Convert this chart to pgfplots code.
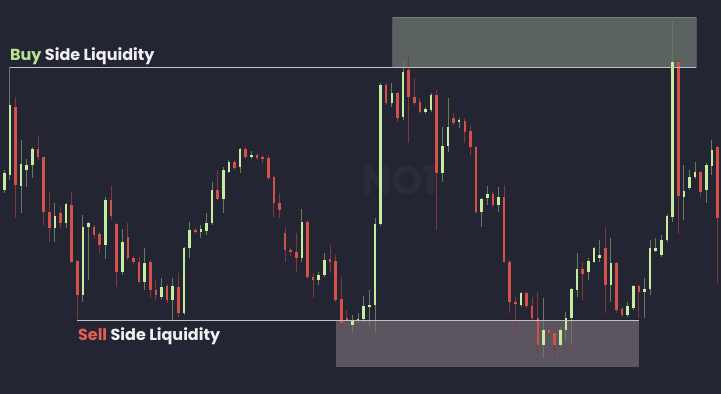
\documentclass[border=0pt]{standalone}
\usepackage{pgfplots}
\pgfplotsset{compat=1.18}
\usepackage{pgfplotstable}
\usepackage{fontspec}
\setmainfont{Poppins}
\definecolor{bg}{RGB}{36,37,51}
\definecolor{up}{RGB}{198,236,160}
\definecolor{upw}{RGB}{105,122,98}
\definecolor{dn}{RGB}{212,80,74}
\definecolor{dnw}{RGB}{128,56,58}
\definecolor{buyz}{RGB}{90,99,96}
\definecolor{sellz}{RGB}{92,84,94}
\definecolor{lvl}{RGB}{190,194,196}
\definecolor{buyc}{RGB}{183,228,140}
\definecolor{sellc}{RGB}{226,96,84}
\definecolor{txt}{RGB}{240,240,242}

% columns: candle index, open, high, low, close (screen depth units: smaller = higher price)
\pgfplotstableread{
i o h l c
0 190 170 193 173
1 175 67 180 105
2 107 97 218 185
3 186 140 213 164
4 170 159 187 165
5 165 147 178 149
6 149 136 160 157
7 157 157 225 212
8 212 192 242 228
9 228 203 242 216
10 213 207 228 223
11 223 203 228 204
12 205 192 263 262
13 261 260 319 295
14 295 215 302 227
15 227 222 280 223
16 227 225 238 235
17 234 232 253 245
18 245 197 259 200
19 200 186 220 216
20 224 223 287 272
21 272 229 275 242
22 237 223 260 258
23 258 256 264 262
24 262 257 283 282
25 282 248 290 263
26 262 260 298 290
27 290 280 300 295
28 297 278 300 287
29 286 284 303 300
30 300 278 320 286
31 287 273 317 313
32 313 247 315 248
33 248 222 258 230
34 230 228 234 232
35 232 225 238 229
36 231 213 235 223
37 223 182 225 190
38 190 170 200 199
39 199 167 213 170
40 172 160 173 162
41 162 160 170 168
42 167 148 173 149
43 149 147 159 157
44 157 151 159 155
45 155 153 160 158
46 157 155 163 159
47 158 155 180 178
48 177 176 217 203
49 203 193 218 210
50 233 227 262 250
51 250 248 256 252
52 252 233 272 258
53 258 209 262 222
54 222 220 279 277
55 277 273 298 280
56 280 272 285 275
57 275 253 277 260
58 259 245 273 262
59 261 255 302 300
60 299 277 327 323
61 318 310 323 320
62 325 315 333 320
63 321 313 323 319
64 319 296 323 306
65 307 290 327 305
66 305 218 333 224
67 224 83 226 85
68 85 83 105 103
69 103 83 107 93
70 93 92 122 118
71 117 60 120 72
72 70 57 143 97
73 97 78 105 103
74 102 98 113 112
75 112 107 114 109
76 110 93 112 95
77 95 90 230 173
78 173 127 182 146
79 146 98 152 127
80 118 113 125 123
81 122 118 128 120
82 121 118 143 132
83 131 125 155 147
84 147 146 214 212
85 212 198 227 199
86 198 186 205 194
87 194 192 207 205
88 205 187 212 197
89 197 185 263 262
90 262 260 313 302
91 302 297 330 304
92 305 292 307 293
93 293 292 308 306
94 306 297 320 318
95 318 292 353 345
96 345 298 358 330
97 330 328 336 333
98 333 332 357 345
99 345 327 347 330
100 330 312 342 318
101 318 288 343 289
102 290 253 297 269
103 269 262 300 274
104 272 258 280 261
105 262 247 263 248
106 258 240 262 255
107 248 227 313 285
108 285 238 302 263
109 263 262 313 310
110 309 307 317 315
111 315 302 317 306
112 308 285 310 286
113 286 285 318 292
114 292 278 318 289
115 289 240 295 248
116 251 238 252 248
117 255 235 257 240
118 240 214 242 216
119 217 22 222 62
120 62 60 234 196
121 197 165 220 191
122 188 170 190 177
123 177 162 179 172
124 172 171 197 192
125 190 163 203 165
126 166 140 175 150
127 147 146 283 218
}\candles

\begin{document}
\begin{tikzpicture}
\begin{axis}[
  scale only axis, width=721pt, height=394pt,
  xmin=-0.766, xmax=127.62, ymin=0, ymax=394, y dir=reverse,
  axis line style={draw=none}, ticks=none,
  axis background/.style={fill=bg}, clip=false]

% liquidity zones
\addplot[fill=buyz, draw=lvl, draw opacity=0.3, line width=0.5pt] coordinates {(69.16,17) (123.17,17) (123.17,67) (69.16,67)} -- cycle;
\addplot[fill=sellz, draw=none] coordinates {(59.06,320) (113.02,320) (113.02,367) (59.06,367)} -- cycle;

% watermark
\node[text=bg!97!white, font=\fontsize{40}{44}\selectfont\bfseries] at (axis cs:70.4,180) {NO1};

% wicks
\addplot[draw=none, mark=none, error bars/.cd, y dir=plus, y explicit, error mark=none,
  error bar style={draw=upw, line width=0.9pt}]
  table[x=i, y expr={\thisrow{c}<\thisrow{o} ? \thisrow{h} : nan}, y error expr={\thisrow{l}-\thisrow{h}}] {\candles};
\addplot[draw=none, mark=none, error bars/.cd, y dir=plus, y explicit, error mark=none,
  error bar style={draw=dnw, line width=0.9pt}]
  table[x=i, y expr={\thisrow{c}<\thisrow{o} ? nan : \thisrow{h}}, y error expr={\thisrow{l}-\thisrow{h}}] {\candles};
% bodies
\addplot[draw=none, mark=none, error bars/.cd, y dir=plus, y explicit, error mark=none,
  error bar style={draw=up, line width=2.6pt}]
  table[x=i, y expr={\thisrow{c}<\thisrow{o} ? \thisrow{c} : nan}, y error expr={max(\thisrow{o}-\thisrow{c},1.6)}] {\candles};
\addplot[draw=none, mark=none, error bars/.cd, y dir=plus, y explicit, error mark=none,
  error bar style={draw=dn, line width=2.6pt}]
  table[x=i, y expr={\thisrow{c}<\thisrow{o} ? nan : \thisrow{o}}, y error expr={max(\thisrow{c}-\thisrow{o},1.6)}] {\candles};

% liquidity levels
\addplot[lvl, line width=1pt] coordinates {(1,67) (123.17,67)};
\addplot[lvl, line width=1pt] coordinates {(13,320) (113.02,320)};

\node[anchor=base west, inner sep=0pt, text=txt, font=\fontsize{16}{19}\selectfont\bfseries] at (axis cs:1.0,60) {\textcolor{buyc}{Buy} Side Liquidity};
\node[anchor=base west, inner sep=0pt, text=txt, font=\fontsize{16}{19}\selectfont\bfseries] at (axis cs:13.1,340) {\textcolor{sellc}{Sell} Side Liquidity};
\end{axis}
\end{tikzpicture}
\end{document}
